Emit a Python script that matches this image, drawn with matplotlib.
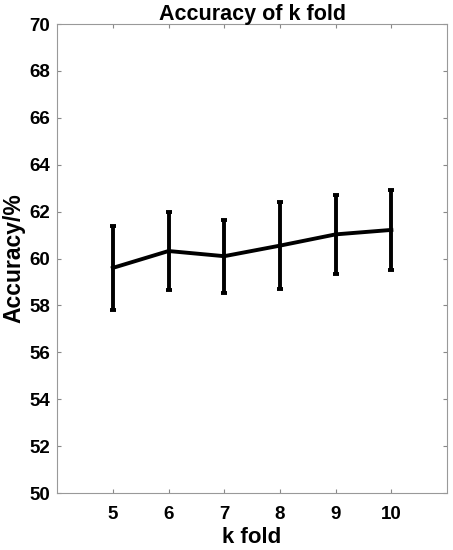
import matplotlib
matplotlib.use('Agg')
import matplotlib.pyplot as plt

k_values = [5, 6, 7, 8, 9, 10]
accuracy = [59.6, 60.32, 60.1, 60.55, 61.03, 61.22]
acc_err = [1.8, 1.68, 1.55, 1.85, 1.69, 1.72]
y_ticks = list(range(50, 71, 2))

plt.rcParams['font.family'] = ['Liberation Sans', 'DejaVu Sans']
plt.rcParams['font.weight'] = 'bold'

fig = plt.figure(figsize=(4.53, 5.5), dpi=100)
ax = fig.add_axes([0.126, 0.1036, 0.861, 0.8527])

ax.errorbar(k_values, accuracy, yerr=acc_err, color='black', linewidth=2.8,
            elinewidth=2.8, capsize=2.5, capthick=2.8)

ax.set_xlim(4, 11)
ax.set_ylim(50, 70)
ax.set_xticks(k_values)
ax.set_yticks(y_ticks)
ax.tick_params(direction='in', length=3, color='#888888', labelsize=13.5,
               top=True, right=True, labeltop=False, labelright=False, pad=5)
ax.tick_params(axis='x', pad=9)
for lbl in ax.get_xticklabels() + ax.get_yticklabels():
    lbl.set_fontweight('bold')
for s in ax.spines.values():
    s.set_color('#999999')
    s.set_linewidth(0.8)

ax.set_title('Accuracy of k fold', fontsize=15.5, fontweight='bold', pad=3)
ax.set_xlabel('k fold', fontsize=16, fontweight='bold', labelpad=3)
ax.set_ylabel('Accuracy/%', fontsize=16.5, fontweight='bold', labelpad=3)

fig.savefig('out.png', dpi=100)
